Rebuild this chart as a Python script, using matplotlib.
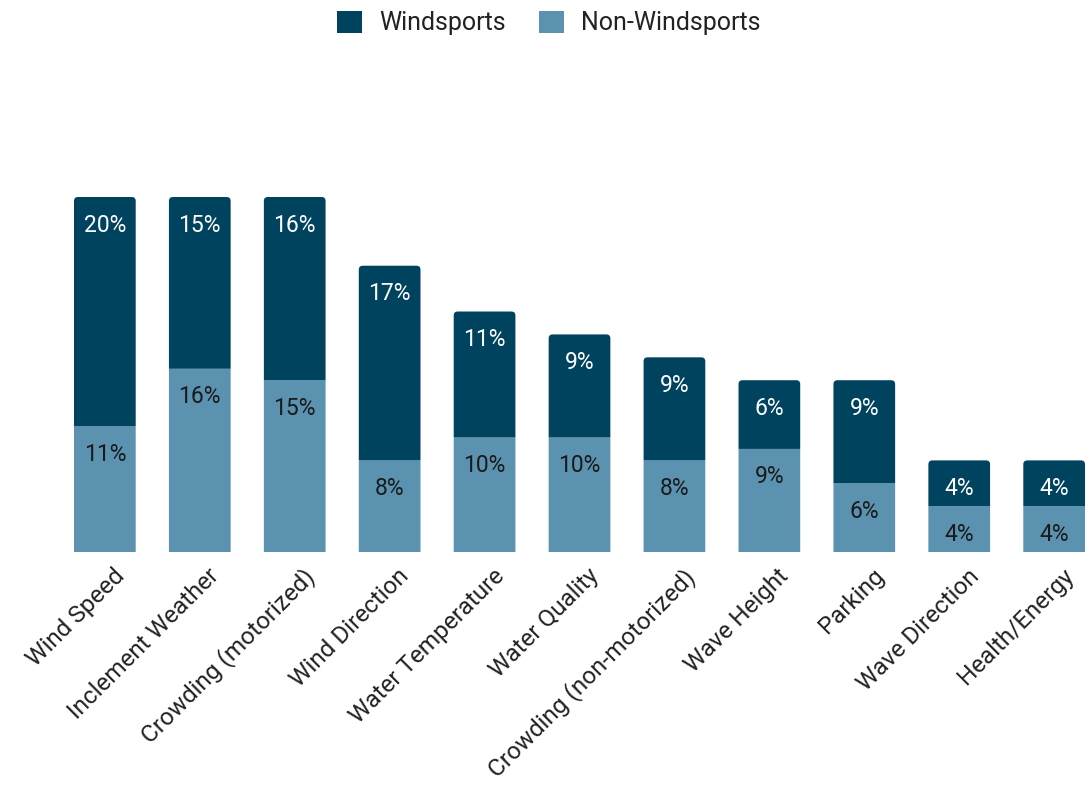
import numpy as np
import matplotlib
matplotlib.use("Agg")
import matplotlib.pyplot as plt
import matplotlib.transforms as mtransforms
from matplotlib.patches import PathPatch, Patch
from matplotlib.path import Path

plt.rcParams['font.family'] = ['Roboto', 'DejaVu Sans']

categories = ["Wind Speed", "Inclement Weather", "Crowding (motorized)", "Wind Direction",
              "Water Temperature", "Water Quality", "Crowding (non-motorized)", "Wave Height",
              "Parking", "Wave Direction", "Health/Energy"]
windsports = [20, 15, 16, 17, 11, 9, 9, 6, 9, 4, 4]
non_windsports = [11, 16, 15, 8, 10, 10, 8, 9, 6, 4, 4]

dark = "#00435f"
light = "#5a92b0"


def top_rounded(bx, by, bw, bh, rx, ry):
    x0, x1, y0, y1 = bx, bx + bw, by, by + bh
    verts = [(x0, y0), (x1, y0), (x1, y1 - ry), (x1, y1), (x1 - rx, y1),
             (x0 + rx, y1), (x0, y1), (x0, y1 - ry), (x0, y0)]
    codes = [Path.MOVETO, Path.LINETO, Path.LINETO, Path.CURVE3, Path.CURVE3,
             Path.LINETO, Path.CURVE3, Path.CURVE3, Path.CLOSEPOLY]
    return Path(verts, codes)


fig = plt.figure(figsize=(10.89, 7.85), dpi=100)
ax = fig.add_axes([74 / 1089, (785 - 552) / 785, (1085 - 74) / 1089, (552 - 197) / 785])

x = np.arange(len(categories))
w = 0.65
low = ax.bar(x, non_windsports, width=w, color=light)
top = ax.bar(x, windsports, width=w, bottom=non_windsports, color=dark)

ax.set_xlim(-w / 2, len(categories) - 1 + w / 2)
ax.set_ylim(0, max(a + b for a, b in zip(windsports, non_windsports)))

# rounded top corners on the dark segments
fig.canvas.draw()
px_x = ax.transData.transform((1, 0))[0] - ax.transData.transform((0, 0))[0]
px_y = ax.transData.transform((0, 1))[1] - ax.transData.transform((0, 0))[1]
for b in low:
    b.set_snap(False)
for b in top:
    p = top_rounded(b.get_x(), b.get_y(), b.get_width(), b.get_height(),
                    4 / px_x, 4 / px_y)
    ax.add_patch(PathPatch(p, facecolor=dark, edgecolor="none"))
    b.set_visible(False)

for i in range(len(categories)):
    ax.annotate(f"{windsports[i]}%", (x[i], non_windsports[i] + windsports[i]),
                xytext=(0, -28), textcoords="offset pixels",
                ha="center", va="center", color="white", fontsize=16.5)
    ax.annotate(f"{non_windsports[i]}%", (x[i], non_windsports[i]),
                xytext=(0, -28), textcoords="offset pixels",
                ha="center", va="center", color="#1a1a1a", fontsize=16.5)

ax.set_xticks(x)
ax.set_xticklabels(categories, rotation=45, ha="right", va="top",
                   rotation_mode="anchor", fontsize=17.5, color="#222222")
ax.tick_params(axis="x", length=0, pad=9)
shift = mtransforms.ScaledTranslation(8 / 100, 0, fig.dpi_scale_trans)
for lab in ax.get_xticklabels():
    lab.set_transform(lab.get_transform() + shift)
ax.set_yticks([])
for s in ax.spines.values():
    s.set_visible(False)

handles = [Patch(facecolor=dark, label="Windsports"),
           Patch(facecolor=light, label="Non-Windsports")]
fig.legend(handles=handles, loc="center", bbox_to_anchor=(0.504, 1 - 23 / 785),
           ncol=2, frameon=False, fontsize=18, handlelength=1.0, handleheight=1.0,
           handletextpad=0.68, columnspacing=1.36, labelcolor="#222222")

fig.savefig("out.png", dpi=100)
